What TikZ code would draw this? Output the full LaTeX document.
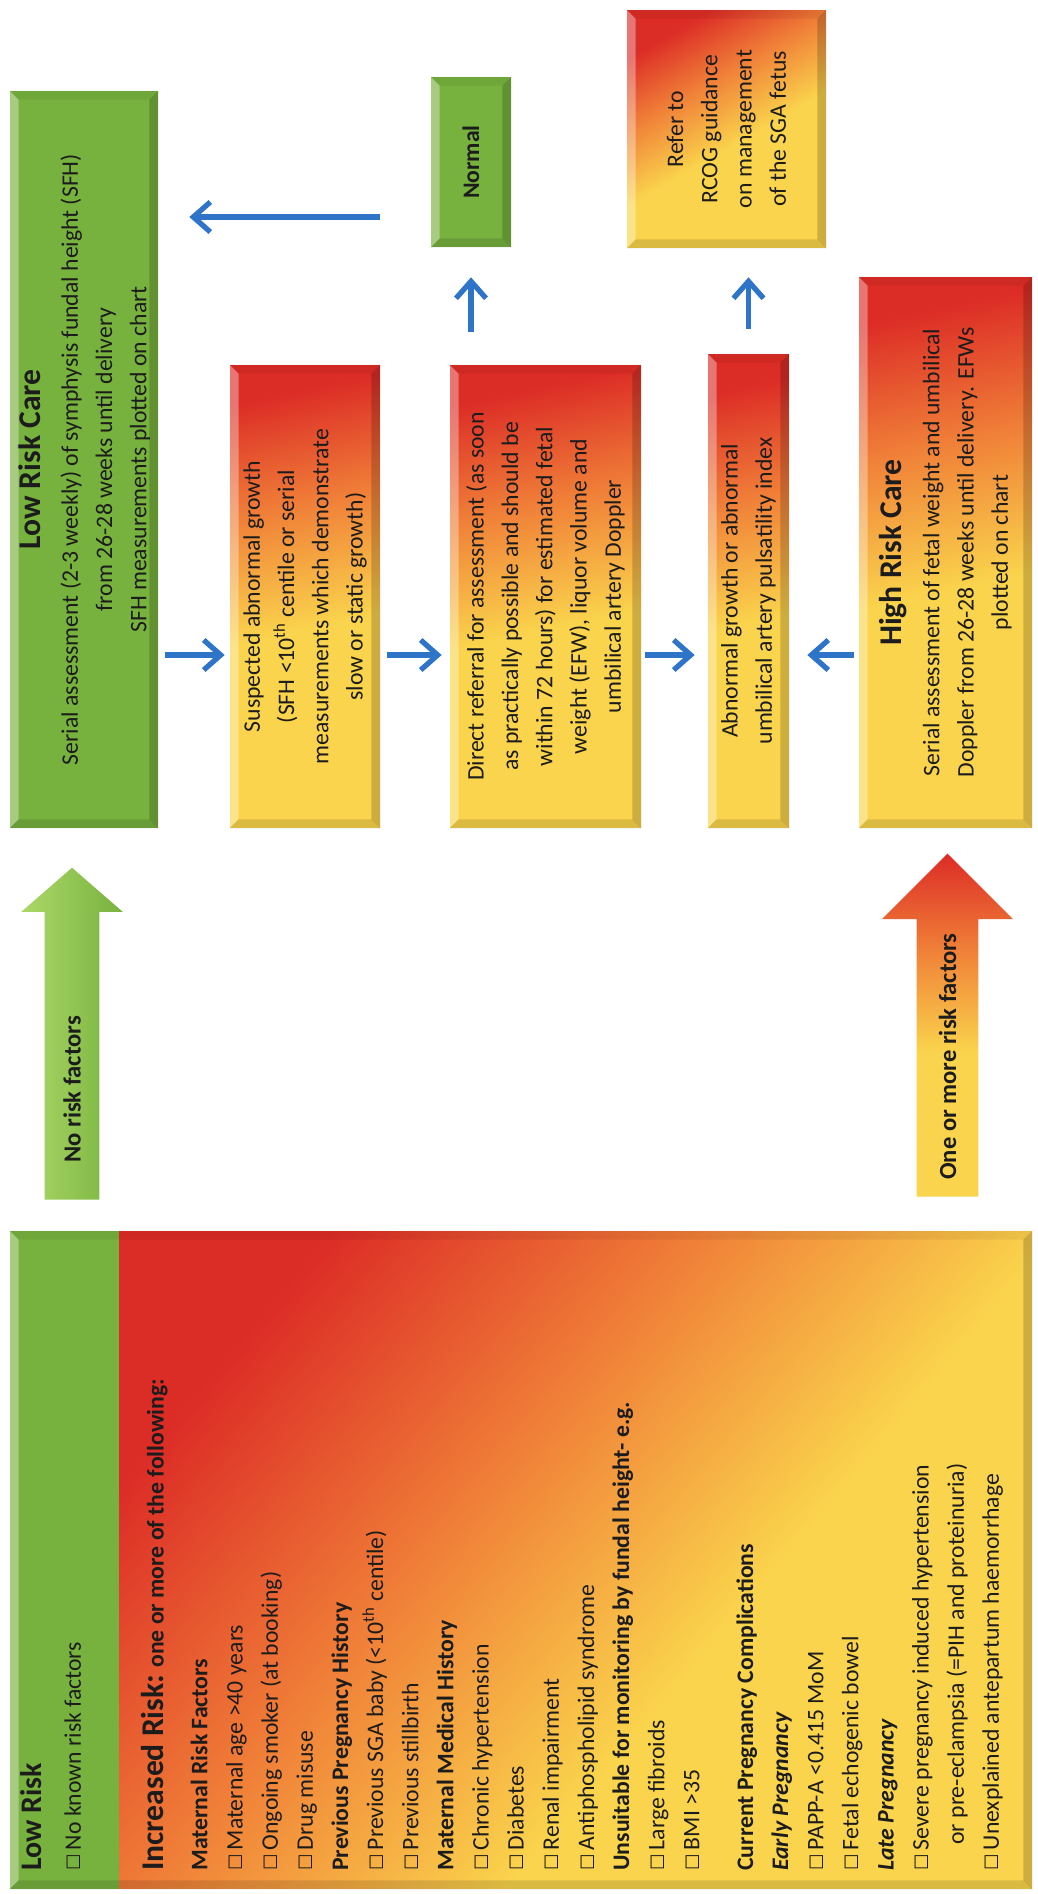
\documentclass[tikz,border=0pt]{standalone}
\usepackage{fontspec}
\setmainfont{Carlito}
\newfontfamily\boxfont{DejaVu Sans}
\usetikzlibrary{calc,arrows.meta,shapes.arrows}
\usetikzlibrary{positioning}

\definecolor{flowblue}{RGB}{46,117,201}
\definecolor{lowgreen}{RGB}{120,178,62}
\definecolor{palegreen}{RGB}{172,216,104}
\definecolor{riskred}{RGB}{220,44,38}
\definecolor{riskorange}{RGB}{240,128,56}
\definecolor{riskyellow}{RGB}{250,212,76}
\definecolor{inktext}{RGB}{28,28,28}

\pgfdeclareverticalshading{hotshade}{100bp}{color(0bp)=(riskyellow); color(46bp)=(riskyellow); color(61bp)=(riskorange); color(75bp)=(riskred); color(100bp)=(riskred)}
\pgfdeclareverticalshading{riskshade}{100bp}{color(0bp)=(riskyellow); color(40bp)=(riskyellow); color(57bp)=(riskorange); color(75bp)=(riskred); color(100bp)=(riskred)}

\newcommand{\chkbox}{{\boxfont\fontsize{10.5}{10.5}\selectfont ☐}\,}
\newcommand{\cardhead}{\fontsize{18}{22}\selectfont\bfseries}
% light and dark edges round a card
\newcommand{\bevel}[2]{%
  \fill[white,opacity=.35] (#1.north west) -- (#1.north east) -- ($(#1.north east)+(9,9)$) -- ($(#1.north west)+(9,-9)$) -- cycle;
  \fill[black,opacity=.06] (#1.north east) -- (#2.south east) -- ($(#2.south east)+(-9,9)$) -- ($(#1.north east)+(9,9)$) -- cycle;
  \fill[black,opacity=.18] (#2.south east) -- (#2.south west) -- ($(#2.south west)+(-9,-9)$) -- ($(#2.south east)+(-9,9)$) -- cycle;
  \fill[black,opacity=.12] (#2.south west) -- (#1.north west) -- ($(#1.north west)+(9,-9)$) -- ($(#2.south west)+(-9,-9)$) -- cycle;}

\begin{document}
\begin{tikzpicture}[x=0.02cm, y=-0.02cm,
  every node/.style={text=inktext},
  card/.style={rotate=90, align=center, inner sep=0pt, font=\fontsize{13.5}{19.5}\selectfont},
  greencard/.style={card, fill=lowgreen},
  hotcard/.style={card, shading=hotshade, shading angle=12},
  flow/.style={draw=flowblue, line width=3pt, -{Straight Barb[length=3.4mm,width=6mm]}},
  bigarrow/.style={single arrow, rotate=90, anchor=tail, single arrow head indent=0pt, inner sep=0pt, text depth=0pt},
  arrowtext/.style={rotate=90, anchor=west, inner sep=0pt, font=\fontsize{14}{16}\selectfont\bfseries}]
\path[use as bounding box, fill=white] (0,0) rectangle (1038,1894);

% care pathway
\node[greencard, minimum width=14.74cm, minimum height=2.96cm] (lowcare) at (84,459.5)
  {{\cardhead Low Risk Care}\\[2pt] Serial assessment (2-3 weekly) of symphysis fundal height (SFH)\\ from 26-28 weeks until delivery\\ SFH measurements plotted on chart};
\node[hotcard, minimum width=9.26cm, minimum height=3cm] (suspected) at (305,596.5)
  {Suspected abnormal growth\\ (SFH <10\textsuperscript{th} centile or serial\\ measurements which demonstrate\\ slow or static growth)};
\node[hotcard, minimum width=9.26cm, minimum height=3.82cm] (direct) at (545.5,596.5)
  {Direct referral for assessment (as soon\\ as practically possible and should be\\ within 72 hours) for estimated fetal\\ weight (EFW), liquor volume and\\ umbilical artery Doppler};
\node[hotcard, minimum width=9.48cm, minimum height=1.62cm] (abnormal) at (748.5,591)
  {Abnormal growth or abnormal\\ umbilical artery pulsatility index};
\node[hotcard, minimum width=11.02cm, minimum height=3.46cm] (highcare) at (945.5,552.5)
  {{\cardhead High Risk Care}\\[2pt] Serial assessment of fetal weight and umbilical\\ Doppler from 26-28 weeks until delivery. EFWs\\ plotted on chart};
\node[greencard, minimum width=3.4cm, minimum height=1.6cm, font=\fontsize{13.5}{19.5}\selectfont\bfseries] (normal) at (471,162) {Normal};
\node[hotcard, minimum width=4.76cm, minimum height=3.98cm, shading angle=30] (refer) at (726.5,129)
  {Refer to\\ RCOG guidance\\ on management\\ of the SGA fetus};

% risk assessment
\node[greencard, minimum width=13.16cm, minimum height=2.18cm] (lowrisk) at (64.5,1560) {};
\node[card, shading=riskshade, shading angle=50, minimum width=13.16cm, minimum height=18.26cm] (incrisk) at (575.5,1560) {};

\foreach \a/\b in {lowcare/lowcare, suspected/suspected, direct/direct, abnormal/abnormal,
                   highcare/highcare, normal/normal, refer/refer, lowrisk/incrisk}
  {\bevel{\a}{\b}}

\node[rotate=90, anchor=north west, align=left, inner sep=0pt, font=\fontsize{13.5}{19.5}\selectfont] (lowlist) at (20,1871)
  {{\fontsize{17}{20}\selectfont\bfseries Low Risk}\\[3pt] \chkbox No known risk factors};
\node[rotate=90, anchor=north west, align=left, inner sep=0pt, font=\fontsize{13.5}{20}\selectfont] (inclist) at (141,1871)
  {{\fontsize{18}{22}\selectfont\bfseries Increased Risk:} \textbf{one or more of the following:}\\[5pt]
   \textbf{Maternal Risk Factors}\\
   \chkbox Maternal age >40 years\\
   \chkbox Ongoing smoker (at booking)\\
   \chkbox Drug misuse\\
   \textbf{Previous Pregnancy History}\\
   \chkbox Previous SGA baby (<10\textsuperscript{th} centile)\\
   \chkbox Previous stillbirth\\
   \textbf{Maternal Medical History}\\
   \chkbox Chronic hypertension\\
   \chkbox Diabetes\\
   \chkbox Renal impairment\\
   \chkbox Antiphospholipid syndrome\\
   \textbf{Unsuitable for monitoring by fundal height- e.g.}\\
   \chkbox Large fibroids\\
   \chkbox BMI >35\\[10.5pt]
   \textbf{Current Pregnancy Complications}\\
   \textbf{\textit{Early Pregnancy}}\\
   \chkbox PAPP-A <0.415 MoM\\
   \chkbox Fetal echogenic bowel\\
   \textbf{\textit{Late Pregnancy}}\\
   \chkbox Severe pregnancy induced hypertension\\
   \hspace*{1.1em}or pre-eclampsia (=PIH and proteinuria)\\
   \chkbox Unexplained antepartum haemorrhage};

% block arrows
\node[bigarrow, text height=1.08cm, minimum height=6.64cm, minimum width=2.02cm, single arrow head extend=0.47cm, single arrow tip angle=98,
      left color=palegreen, right color=lowgreen] (norisk) at (72,1200) {};
\node[arrowtext] (norisktext) at ($(norisk.tail)+(0,-37)$) {No risk factors};
\node[bigarrow, text height=1.22cm, minimum height=6.86cm, minimum width=2.6cm, single arrow head extend=0.69cm, single arrow tip angle=90,
      shading=hotshade, shading angle=0] (onemore) at (947.5,1197) {};
\node[arrowtext] (onemoretext) at ($(onemore.tail)+(0,-17)$) {One or more risk factors};

% connectors
\coordinate (row) at (0,655);
\coordinate (back) at (0,217);
\draw[flow, shorten <=0.14cm, shorten >=0.1cm] (lowcare.south |- row) -- (suspected.north |- row);
\draw[flow, shorten <=0.14cm, shorten >=0.16cm] (suspected.south |- row) -- (direct.north |- row);
\draw[flow, shorten <=0.08cm, shorten >=0.26cm] (direct.south |- row) -- (abnormal.north |- row);
\draw[flow, shorten <=0.1cm, shorten >=0.36cm] (highcare.north |- row) -- (abnormal.south |- row);
\draw[flow, shorten <=0.66cm, shorten >=0.6cm] (normal.west |- direct.east) -- (normal.west);
\draw[flow, shorten <=0.5cm, shorten >=0.58cm] (abnormal.east) -- (abnormal.east |- refer.west);
\draw[flow, shorten <=1.02cm, shorten >=0.62cm] (normal.north |- back) -- (lowcare.south |- back);
\end{tikzpicture}
\end{document}
